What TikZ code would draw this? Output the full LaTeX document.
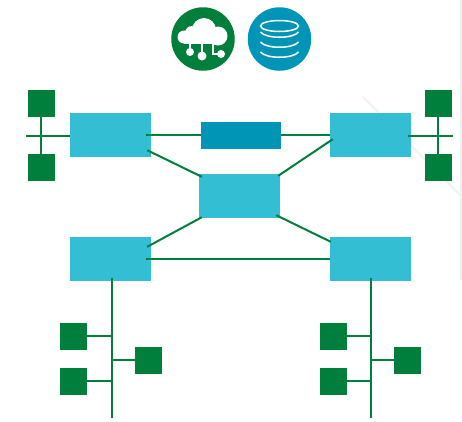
\documentclass[tikz,border=0pt]{standalone}
\usepackage{xcolor}
\definecolor{netgreen}{RGB}{0,127,60}
\definecolor{netcyan}{RGB}{51,190,212}
\definecolor{netblue}{RGB}{0,149,182}
\definecolor{netfaint}{RGB}{238,242,240}

\begin{document}
\begin{tikzpicture}[x=1pt,y=-1pt]
    % Define styles
    \tikzstyle{router} = [fill=netcyan, inner sep=0pt, minimum width=81pt, minimum height=44pt]
    \tikzstyle{hub} = [fill=netblue, inner sep=0pt, minimum width=80pt, minimum height=27pt]
    \tikzstyle{host} = [fill=netgreen, inner sep=0pt, minimum width=27pt, minimum height=27pt]
    \tikzstyle{badge} = [circle, inner sep=0pt, minimum size=63.5pt]
    \tikzstyle{link} = [line width=2pt, netgreen]
    \tikzstyle{glyph} = [line width=1.5pt, white]
    \tikzstyle{faint} = [line width=2pt, netfaint]

    \useasboundingbox (0,0) rectangle (462,421);

    % Faint marks behind the diagram
    \draw [faint] (363,97) -- (462,197);
    \draw [faint] (460.5,0) -- (460.5,280);

    % Create nodes at their positions
    \node (tl) [router] at (110.5,135) {};
    \node (tr) [router] at (370.5,135) {};
    \node (mid) [router] at (239.5,196) {};
    \node (bl) [router] at (110.5,259) {};
    \node (br) [router] at (370.5,259) {};
    \node (top) [hub] at (241,135.5) {};

    \node (hosta) [host] at (41.5,103.5) {};
    \node (hostb) [host] at (41.5,167.5) {};
    \node (hostc) [host] at (438.5,103.5) {};
    \node (hostd) [host] at (438.5,167.5) {};

    \node (hoste) [host] at (73.5,336.5) {};
    \node (hostf) [host] at (73.5,381.5) {};
    \node (hostg) [host] at (148.5,360.5) {};
    \node (hosth) [host] at (333.5,336.5) {};
    \node (hosti) [host] at (333.5,381.5) {};
    \node (hostj) [host] at (407.5,360.5) {};

    \node (cloudicon) [badge, fill=netgreen] at (203,39) {};
    \node (dbicon) [badge, fill=netblue] at (279.5,39) {};

    % Free ends of the bus lines
    \coordinate (stubl) at (26,136);
    \coordinate (stubr) at (453,136);
    \coordinate (busl) at (112,278);
    \coordinate (buslend) at (112,418);
    \coordinate (busr) at (371,278);
    \coordinate (busrend) at (371,418);

    % Draw links
    \draw [link, shorten <=-5pt] (tl.east) -- (tl.east -| top.west);
    \draw [link] (tr.west -| top.east) -- (tr.west);
    \draw [link] ([shift={(-4,-7)}]tl.south east) -- ([shift={(3,3)}]mid.north west);
    \draw [link] ([shift={(3,-18)}]tr.south west) -- ([shift={(-2,2)}]mid.north east);
    \draw [link] ([shift={(-4,10)}]bl.north east) -- ([shift={(3,-1)}]mid.south west);
    \draw [link] ([shift={(1,5)}]br.north west) -- ([shift={(-4,-3)}]mid.south east);
    \draw [link, shorten <=-5pt] (bl.east) -- (br.west);

    % Draw hosts on their buses
    \draw [link] ([xshift=-0.5pt]hosta.south) -- ([xshift=-0.5pt]hostb.north);
    \draw [link] ([xshift=-0.5pt]hostc.south) -- ([xshift=-0.5pt]hostd.north);
    \draw [link] (stubl) -- (tl.west |- stubl);
    \draw [link, shorten >=-3pt] (stubr) -- (tr.east |- stubr);

    \draw [link] (busl) -- (buslend);
    \draw [link] (busr) -- (busrend);
    \draw [link] ([yshift=0.5pt]hoste.east) -- ([yshift=0.5pt]hoste.east -| busl);
    \draw [link] ([yshift=0.5pt]hostf.east) -- ([yshift=0.5pt]hostf.east -| busl);
    \draw [link] ([yshift=0.5pt]hostg.west) -- ([yshift=0.5pt]hostg.west -| busl);
    \draw [link] ([yshift=0.5pt]hosth.east) -- ([yshift=0.5pt]hosth.east -| busr);
    \draw [link] ([yshift=0.5pt]hosti.east) -- ([yshift=0.5pt]hosti.east -| busr);
    \draw [link] ([yshift=0.5pt]hostj.west) -- ([yshift=0.5pt]hostj.west -| busr);

    % Cloud icon
    \fill [white] (204,30) circle (12);
    \fill [white] (192,33) circle (7);
    \fill [white] (184,37) circle (6.5);
    \fill [white] (218,36) circle (9.5);
    \fill [white] (184,35) rectangle (219,43.5);
    \draw [glyph] (190,43) -- (190,52);
    \draw [glyph] (202,43) -- (202,56);
    \draw [glyph] (213,43) -- (213,54) -- (221,54);
    \fill [white] (190,52) circle (4);
    \fill [white] (202,56) circle (4.5);
    \fill [white] (221,54) circle (4);

    % Database icon
    \draw [glyph] (279.5,26) ellipse (19 and 5.5);
    \foreach \y in {32,42,52}
        \draw [glyph] (260.5,\y) .. controls (266,\y+7) and (293,\y+7) .. (298.5,\y);
\end{tikzpicture}
\end{document}
